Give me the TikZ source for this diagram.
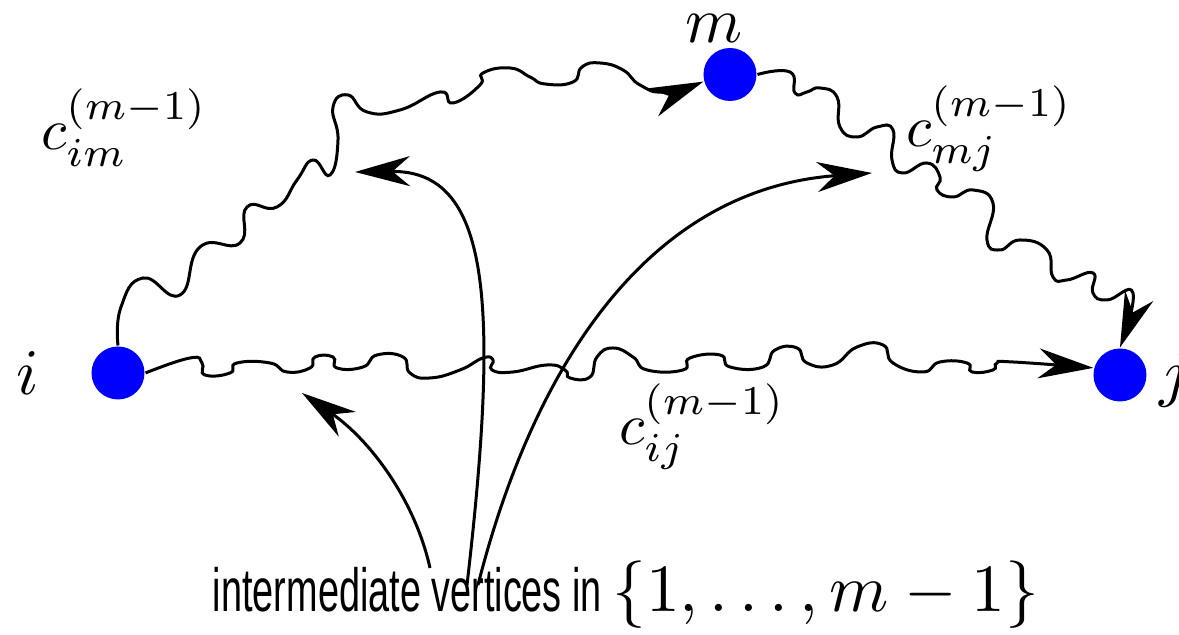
\documentclass[tikz,border=0pt]{standalone}
\usepackage{graphicx}
\usepackage{fontspec}
\newfontfamily\helvn[FakeStretch=0.62]{Liberation Sans}
\usetikzlibrary{arrows.meta}
\begin{document}
\begin{tikzpicture}[x=0.2pt,y=-0.2pt,
  vtx/.style={circle,fill=blue,minimum size=10.6pt,inner sep=0pt,draw=none},
  tip/.style={-{Stealth[length=11pt,width=6pt,inset=3.5pt]}},
  wavy/.style={line width=0.6pt,tip},
  arr/.style={line width=0.6pt,tip},
  vlabel/.style={anchor=base west,inner sep=0pt,scale=1.3},
  elabel/.style={anchor=base west,inner sep=0pt,scale=1.17}]
\useasboundingbox (0,0) rectangle (1179,635);
% vertices
\node[vtx] (i) at (118,373) {};
\node[vtx] (m) at (730,74.5) {};
\node[vtx] (j) at (1120,375) {};
\node[vlabel] (li) at (15,395) {$i$};
\node[vlabel] (lm) at (684,43) {$m$};
\node[vlabel] (lj) at (1158,395) {$j$};
% edge labels
\node[elabel] (cim) at (40,150) {$c_{im}^{(m-1)}$};
\node[elabel] (cmj) at (905,147) {$c_{mj}^{(m-1)}$};
\node[elabel] (cij) at (618,445) {$c_{ij}^{(m-1)}$};
% wavy paths
\draw[wavy] plot[smooth,tension=0.85] coordinates {(i.north) (121,307) (143,278) (180,295) (200,247) (240,243) (247,207) (277,207) (297,180) (313,160) (330,175) (338,140) (333,107) (348,95) (367,112) (400,110) (440,92) (453,103) (480,85) (483,73) (510,68) (530,77) (545,84) (573,82) (582,67) (600,63) (623,70) (640,85) (665,92) (m.195)};
\draw[wavy] plot[smooth,tension=0.85] coordinates {(m.east) (790,72) (795,93) (807,92) (820,88) (837,97) (840,127) (857,137) (877,127) (893,130) (892,160) (903,173) (927,163) (940,177) (937,190) (953,197) (973,190) (993,203) (987,240) (1000,250) (1020,240) (1047,250) (1053,277) (1067,280) (1093,273) (1093,293) (1107,300) (1133,293) (j.north)};
\draw[wavy] plot[smooth,tension=0.85] coordinates {(i.east) (190,358) (202,363) (205,375) (230,373) (237,363) (270,363) (287,372) (310,368) (315,357) (333,357) (337,368) (363,367) (377,355) (403,357) (410,373) (430,378) (460,370) (483,358) (493,360) (492,370) (513,372) (547,365) (565,370) (570,378) (590,377) (597,357) (613,348) (633,357) (647,370) (683,370) (690,358) (720,355) (730,367) (763,367) (775,350) (797,348) (807,363) (833,365) (857,347) (883,345) (893,363) (923,372) (940,362) (967,363) (972,372) (993,370) (997,363) (1013,362) (j.165)};
% text and pointer arrows
\node[anchor=base west,inner sep=0pt] (txt) at (212,612) {{\helvn\fontsize{12.2}{15}\selectfont intermediate vertices in }\scalebox{1.35}{$\{1,\ldots,m-1\}$}};
\coordinate (sa) at (430,568);
\coordinate (sb) at (467,585);
\coordinate (sc) at (478,585);
\coordinate (ta) at (302,393);
\coordinate (tb) at (355,172);
\coordinate (tc) at (872,173);
\draw[arr] (sa) .. controls (415,500) and (370,440) .. (ta);
\draw[arr] (sb) .. controls (500,300) and (490,170) .. (tb);
\draw[arr] (sc) .. controls (530,380) and (640,190) .. (tc);
\end{tikzpicture}
\end{document}
